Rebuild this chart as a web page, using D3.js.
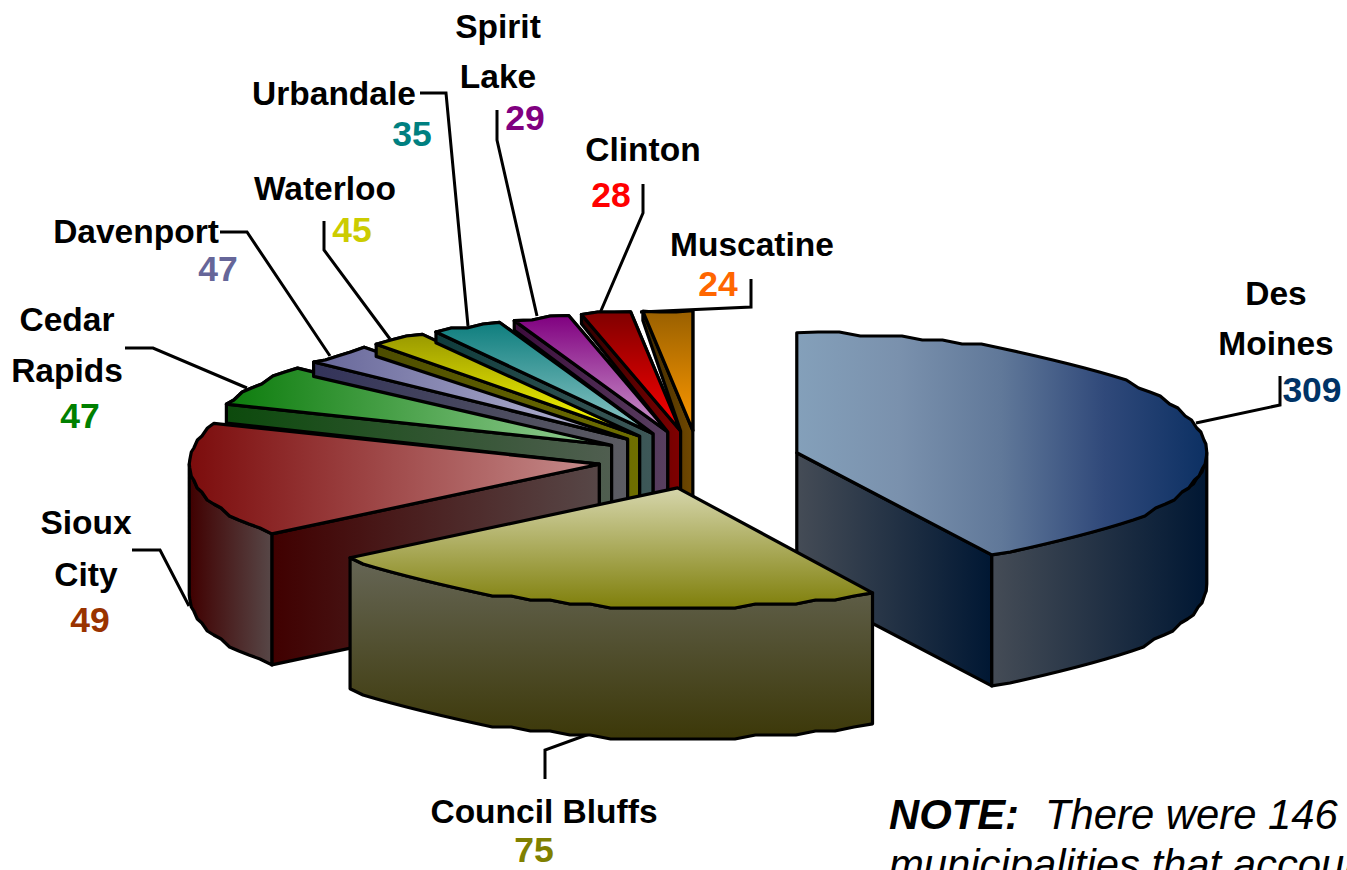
<!DOCTYPE html>
<html lang="en">
<head>
<meta charset="UTF-8">
<title>Iowa municipalities pie</title>
<script src="https://d3js.org/d3.v7.min.js"></script>
<style>
    html, body { margin: 0; padding: 0; background: #fff; overflow: hidden; }
    svg { display: block; font-family: "Liberation Sans", Arial, sans-serif; }
    .name { font-size: 33.5px; font-weight: bold; text-anchor: middle; fill: #000; }
    .count { font-size: 35.5px; font-weight: bold; text-anchor: middle; }
    .leader { fill: none; stroke: #000; stroke-width: 3px; }
    .slab { stroke: #000; stroke-width: 3.2px; stroke-linejoin: round; }
    .note { font-size: 41.8px; font-style: italic; fill: #000; }
</style>
</head>
<body>
<svg width="1347" height="870"></svg>
<script>
    var cities = ["Des Moines", "Council Bluffs", "Sioux City", "Cedar Rapids", "Davenport",
                  "Waterloo", "Urbandale", "Spirit Lake", "Clinton", "Muscatine"];
    // the numbers printed next to each wedge
    var counts = [309, 75, 49, 47, 47, 45, 35, 29, 28, 24];
    // wedge sizes, in degrees. the source does not draw them in
    // proportion to the printed counts so they have to be kept apart
    var sweeps = [151.6, 81.4, 57, 20, 10, 8, 10, 8, 7, 7];

    var countColors = ["#003366", "#808000", "#993300", "#008000", "#666699",
                       "#cccc00", "#008080", "#800080", "#ff0000", "#ff6600"];
    // [stops, direction] of the gradient on the top of each wedge
    var faceFills = [[["#84a0ba", "#7a91ad", "#607899", "#30497a", "#0c3063"], "h"], [["#d6d6ac", "#7f7f0a"], "v"],
                     [["#7c0c0c", "#c68c8c"], "h"], [["#0c7c0c", "#98d098"], "h"], [["#666699", "#bcbcd8"], "h"],
                     [["#999900", "#ffff00"], "v"], [["#0e7e7e", "#90c8c8"], "v"], [["#800080", "#cc99cc"], "v"],
                     [["#800000", "#ff0000"], "v"], [["#996000", "#ff9900"], "v"]];
    var wallFills = [[["#454c56", "#001733"], "h"], [["#666656", "#3c3808"], "v"], [["#400000", "#574747"], "h"],
                     [["#0c4a0c", "#505e50"], "h"], [["#33335a", "#5c5c62"], "h"], [["#4c4c00", "#6f6f00"], "h"],
                     [["#0e3c3c", "#3e5858"], "h"], [["#3c0c3c", "#584060"], "h"], [["#300000", "#800000"], "h"],
                     [["#3c2800", "#704800"], "h"]];

    // label lines, name anchor and leader, all in page pixels
    var labelLines = [
        {lines: [["Des", 1276, 305], ["Moines", 1276, 355]], num: [1312, 402], leader: [[1280, 376], [1280, 405], [1196, 423]]},
        {lines: [["Council Bluffs", 544, 823]], num: [534, 862], leader: [[545, 779], [545, 750], [592, 733]]},
        {lines: [["Sioux", 86, 534], ["City", 86, 586]], num: [90, 632], leader: [[132, 550], [160, 550], [189, 606]]},
        {lines: [["Cedar", 67, 331], ["Rapids", 67, 382]], num: [80, 428], leader: [[125, 348], [153, 348], [247, 388]]},
        {lines: [["Davenport", 136, 243]], num: [218, 281], leader: [[220, 232], [247, 232], [330, 356]]},
        {lines: [["Waterloo", 325, 200]], num: [352, 242], leader: [[324, 221], [324, 250], [390, 339]]},
        {lines: [["Urbandale", 334, 105]], num: [412, 146], leader: [[420, 93], [446, 93], [468, 326]]},
        {lines: [["Spirit", 498, 38], ["Lake", 498, 88]], num: [525, 130], leader: [[497, 110], [497, 140], [537, 316]]},
        {lines: [["Clinton", 643, 161]], num: [611, 207], leader: [[643, 184], [643, 213], [600, 313]]},
        {lines: [["Muscatine", 752, 256]], num: [718, 296], leader: [[751, 279], [751, 307], [640, 312]]}
    ];

    var cx = 699, cy = 460, rx = 410, depth = 131, explode = 0.246;

    var svg = d3.select("svg");
    var defs = svg.append("defs");

    var planeX = d3.scaleLinear().domain([-1, 1]).range([cx - rx, cx + rx]);
    // the view is not a clean ellipse: the back of the plate and the very front are stretched
    var planeY = d3.scaleLinear().domain([-1, 0, 0.82, 1.24]).range([cy - 120, cy, cy + 95, cy + 148]);
    var line = d3.line();

    var slices = d3.pie().value(function(d) { return d; }).sort(null)(sweeps);
    slices.forEach(function(s, i) { s.index = i; s.mid = (s.startAngle + s.endAngle) / 2; });

    function gradient(id, fill) {
        var g = defs.append("linearGradient").attr("id", id).attr("x1", 0).attr("y1", 0)
            .attr("x2", fill[1] == "h" ? 1 : 0).attr("y2", fill[1] == "h" ? 0 : 1);
        fill[0].forEach(function(c, k) {
            g.append("stop").attr("offset", k / (fill[0].length - 1)).attr("stop-color", c);
        });
    }
    faceFills.forEach(function(f, i) { gradient("face" + i, f); });
    wallFills.forEach(function(f, i) { gradient("wall" + i, f); });

    // point of a slice on the plate: r = 0 is the tip, r = 1 the rim
    function pt(s, angle, r, drop) {
        return [planeX(explode * Math.sin(s.mid) + r * Math.sin(angle)),
                planeY(-explode * Math.cos(s.mid) - r * Math.cos(angle)) + (drop || 0)];
    }

    // rim between two angles, the source has a rough stepped outline
    function rim(s, a0, a1, drop) {
        var n = Math.max(1, Math.ceil(Math.abs(a1 - a0) / (3 * Math.PI / 180)));
        return d3.range(n + 1).map(function(k) {
            var p = pt(s, a0 + (a1 - a0) * k / n, 1, 0);
            if (k > 0 && k < n) p[1] = Math.round(p[1] / 4) * 4;
            return [p[0], p[1] + (drop || 0)];
        });
    }

    function shape(points, fillId) {
        svg.append("path").attr("class", "slab")
            .attr("d", line(points) + "Z")
            .attr("fill", "url(#" + fillId + ")");
    }

    function drawFace(s) {
        shape([pt(s, 0, 0)].concat(rim(s, s.startAngle, s.endAngle)), "face" + s.index);
    }

    function drawRadialWall(s, angle) {
        var tip = pt(s, 0, 0), outer = pt(s, angle, 1);
        shape([tip, outer, pt(s, angle, 1, depth), pt(s, 0, 0, depth)], "wall" + s.index);
    }

    function drawRimWall(s, a0, a1) {
        shape(rim(s, a0, a1).concat(rim(s, a1, a0, depth)), "wall" + s.index);
    }

    // wedges at the back only show a thin band of wall, which ends in a strip
    // going down next to the neighbour on the left
    function drawBackWall(s) {
        var left = slices[s.index - 1];
        var tip = pt(s, 0, 0), outer = pt(s, s.startAngle, 1), nb = pt(left, 0, 0);
        var lip = 9 + 12 * Math.pow(Math.abs(Math.sin(s.startAngle)), 3);
        shape([outer, tip, [tip[0], tip[1] + depth], [nb[0], nb[1] + depth],
               [nb[0], nb[1]], [outer[0], outer[1] + lip]], "wall" + s.index);
    }

    // leaders sit under the pie
    labelLines.forEach(function(l) {
        svg.append("path").attr("class", "leader").attr("d", line(l.leader));
    });

    // back fan, Cedar Rapids round to Muscatine. each wall lies over the tip of its neighbour
    slices.slice(3).forEach(function(s) {
        drawFace(s);
        drawBackWall(s);
        drawFace(s);
    });

    // Sioux City
    drawRadialWall(slices[2], slices[2].startAngle);
    drawRimWall(slices[2], slices[2].startAngle, 1.5 * Math.PI);
    drawFace(slices[2]);

    // Des Moines
    drawRadialWall(slices[0], slices[0].endAngle);
    drawRimWall(slices[0], 0.5 * Math.PI, slices[0].endAngle);
    drawFace(slices[0]);

    // Council Bluffs is in front of everything
    drawRimWall(slices[1], slices[1].startAngle, slices[1].endAngle);
    drawFace(slices[1]);

    labelLines.forEach(function(l, i) {
        l.lines.forEach(function(t) {
            svg.append("text").attr("class", "name").attr("x", t[1]).attr("y", t[2]).text(t[0]);
        });
        svg.append("text").attr("class", "count").attr("x", l.num[0]).attr("y", l.num[1])
            .attr("fill", countColors[i]).text(counts[i]);
    });

    var note = svg.append("text").attr("class", "note").attr("x", 889).attr("y", 829);
    note.append("tspan").attr("font-weight", "bold").text("NOTE:");
    note.append("tspan").attr("dx", 26).text("There were 146");
    svg.append("text").attr("class", "note").attr("x", 889).attr("y", 879).text("municipalities that accounted");
</script>
</body>
</html>
